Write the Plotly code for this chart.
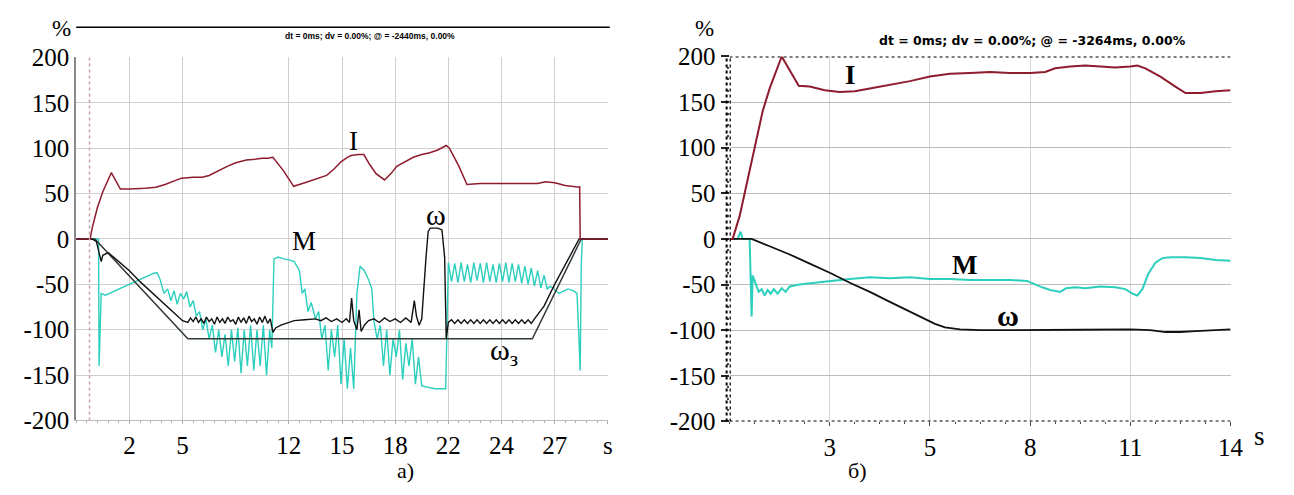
import plotly.graph_objects as go

# ---------------- Panel a) (x in grid divisions 0..10) ----------------
a_tick_pos = [1, 2, 4, 5, 6, 7, 8, 9, 10]
a_tick_text = ["2", "5", "12", "15", "18", "22", "24", "27", "s"]

a_I_x = [0, 0.26, 0.3, 0.4, 0.5, 0.66, 0.83, 1.0, 1.3, 1.5, 1.67, 1.85, 1.98, 2.2, 2.37, 2.5, 2.7,
         2.84, 3.0, 3.07, 3.2, 3.39, 3.5, 3.6, 3.7, 3.9, 4.09, 4.3, 4.5, 4.71, 4.85, 4.98, 5.1,
         5.17, 5.3, 5.41, 5.52, 5.64, 5.8, 5.92, 6.03, 6.2, 6.34, 6.5, 6.65, 6.8, 6.9, 6.96,
         7.02, 7.2, 7.35, 7.6, 8.0, 8.4, 8.68, 8.83, 9.0, 9.2, 9.46, 9.47, 9.48, 10]
a_I_y = [0, 0, 12, 35, 52, 73, 55, 55, 56, 57, 60, 64, 67, 68, 68, 70, 76,
         80, 84, 85, 87, 88, 89, 89, 90, 75, 58, 62, 66, 70, 77, 85, 90,
         92, 93, 93, 82, 72, 65, 72, 80, 86, 90, 93, 95, 98, 101, 103,
         100, 80, 60, 61, 61, 61, 61, 63, 62, 59, 57, 58, 0, 0]

a_W_x = [0, 0.3, 0.38, 0.44, 0.47, 0.5, 0.6, 0.8, 1.0, 1.2, 1.4, 1.6, 1.8, 1.95, 2.0,
         2.1, 2.15, 2.2, 2.25, 2.3, 2.35, 2.4, 2.45, 2.5, 2.55, 2.6, 2.65, 2.7, 2.75, 2.8,
         2.85, 2.9, 2.95, 3.0, 3.05, 3.1, 3.15, 3.2, 3.25, 3.3, 3.35, 3.4, 3.45, 3.5, 3.55,
         3.6, 3.65, 3.7, 3.75, 3.85, 3.95, 4.1, 4.3, 4.5, 4.6, 4.7, 4.8, 4.9, 5.0, 5.08,
         5.14, 5.18, 5.22, 5.28, 5.32, 5.36, 5.42, 5.5, 5.6, 5.7, 5.8, 5.9, 6.0, 6.1, 6.2,
         6.3, 6.36, 6.4, 6.45, 6.5, 6.58, 6.62, 6.66, 6.8, 6.88, 6.93, 6.96, 7.0,
         7.06, 7.12, 7.18, 7.24, 7.3, 7.36, 7.42, 7.48, 7.54, 7.6, 7.66, 7.72, 7.78, 7.84,
         7.9, 7.96, 8.02, 8.08, 8.14, 8.2, 8.26, 8.32, 8.38, 8.44, 8.5, 8.56, 8.62,
         8.7, 8.8, 9.0, 9.2, 9.4, 9.46, 10]
a_W_y = [0, 0, -3, -20, -25, -18, -15, -25, -35, -47, -58, -68, -80, -88, -90,
         -92, -87, -91, -86, -92, -88, -93, -86, -91, -88, -94, -86, -92, -88, -93,
         -86, -91, -89, -94, -86, -92, -87, -93, -85, -91, -88, -94, -86, -92, -85,
         -93, -88, -103, -98, -95, -93, -90, -89, -88, -90, -87, -91, -88, -92, -88,
         -92, -65, -90, -100, -78, -102, -95, -90, -88, -92, -87, -91, -88, -92, -87,
         -92, -68, -85, -95, -88, -20, 8, 12, 12, 10, -20, -110, -92,
         -89, -93, -89, -93, -89, -93, -89, -93, -89, -93, -89, -93, -89, -93,
         -89, -93, -89, -93, -89, -93, -89, -93, -89, -93, -89, -93, -88,
         -82, -74, -50, -28, -6, 0, 0]

a_Wz_x = [0, 0.35, 2.1, 8.58, 9.5, 10]
a_Wz_y = [0, 0, -110, -110, 0, 0]

a_M_x = [0, 0.42, 0.43, 0.45, 0.47, 0.55, 0.7, 0.9, 1.1, 1.3, 1.45, 1.52, 1.58, 1.65, 1.72,
         1.78, 1.84, 1.9, 1.96, 2.02, 2.08, 2.14, 2.2, 2.26, 2.32, 2.38, 2.44, 2.5, 2.56,
         2.62, 2.68, 2.74, 2.8, 2.86, 2.92, 2.98, 3.04, 3.1, 3.16, 3.22, 3.28, 3.34, 3.4,
         3.46, 3.52, 3.58, 3.64, 3.68, 3.72, 3.8, 3.9, 4.0, 4.1, 4.2, 4.25, 4.3, 4.36,
         4.42, 4.5, 4.56, 4.62, 4.68, 4.74, 4.8, 4.86, 4.92, 4.98, 5.04, 5.1, 5.16, 5.22,
         5.28, 5.34, 5.42, 5.5, 5.56, 5.6, 5.66, 5.72, 5.78, 5.84, 5.9, 5.96, 6.02, 6.08,
         6.14, 6.2, 6.26, 6.32, 6.38, 6.44, 6.5, 6.6, 6.75, 6.95,
         7.0, 7.06, 7.12, 7.18, 7.24, 7.3, 7.36, 7.42, 7.48, 7.54, 7.6, 7.66, 7.72, 7.78,
         7.84, 7.9, 7.96, 8.02, 8.08, 8.14, 8.2, 8.26, 8.32, 8.38, 8.44, 8.5, 8.56, 8.62,
         8.68, 8.74, 8.8, 8.86, 8.92, 9.0, 9.08, 9.15, 9.25, 9.35, 9.42, 9.45, 9.48, 9.5,
         9.52, 10]
a_M_y = [0, 0, -140, -85, -60, -62, -58, -53, -47, -42, -38, -37, -45, -60, -55,
         -68, -57, -72, -60, -66, -58, -75, -68, -85, -80, -100, -88, -110, -95,
         -125, -100, -130, -105, -140, -100, -135, -98, -148, -100, -140, -95, -145, -100,
         -140, -95, -150, -100, -120, -22, -20, -22, -23, -25, -35, -60, -55, -80,
         -70, -88, -80, -110, -95, -145, -100, -130, -95, -160, -110, -165, -120, -165,
         -60, -30, -35, -45, -55, -90, -110, -95, -140, -100, -150, -110, -130, -100,
         -155, -115, -140, -110, -160, -130, -162, -163, -165, -165,
         -26, -47, -27, -48, -26, -47, -28, -48, -26, -46, -27, -48, -26, -47,
         -28, -48, -27, -47, -26, -48, -27, -47, -28, -49, -30, -50, -32, -52,
         -35, -54, -40, -55, -52, -56, -60, -58, -55, -57, -60, -100, -145, -30,
         0, 0]

# ---------------- Panel б) (x in grid divisions 0..5) ----------------
b_tick_pos = [1, 2, 3, 4, 5]
b_tick_text = ["3", "5", "8", "11", "14"]

b_I_x = [0, 0.03, 0.1, 0.2, 0.3, 0.33, 0.4, 0.52, 0.6, 0.69, 0.8, 0.95, 1.1, 1.25, 1.4,
         1.6, 1.8, 2.0, 2.2, 2.4, 2.6, 2.8, 3.0, 3.15, 3.25, 3.4, 3.55, 3.7, 3.85, 4.0,
         4.07, 4.15, 4.3, 4.45, 4.55, 4.7, 4.85, 5.0]
b_I_y = [0, 0, 25, 75, 125, 140, 165, 200, 185, 168, 167, 163, 161, 162, 165,
         169, 173, 178, 181, 182, 183, 182, 182, 183, 187, 189, 190, 189, 188, 189,
         190, 187, 178, 167, 160, 160, 162, 163]

b_W_x = [0, 0.22, 0.4, 0.6, 0.8, 1.0, 1.2, 1.4, 1.6, 1.8, 1.95, 2.05, 2.15, 2.3, 2.5,
         3.0, 3.5, 4.0, 4.2, 4.35, 4.5, 4.65, 4.8, 5.0]
b_W_y = [0, 0, -8, -17, -27, -37, -48, -58, -69, -80, -88, -93, -97, -99, -100,
         -100, -99.5, -99, -100, -102, -102, -101, -100, -99]

b_M_x = [0, 0.08, 0.11, 0.13, 0.2, 0.22, 0.23, 0.26, 0.29, 0.32, 0.35, 0.38, 0.41, 0.44,
         0.48, 0.52, 0.56, 0.6, 0.7, 0.85, 1.0, 1.2, 1.4, 1.6, 1.8, 2.0, 2.2, 2.4, 2.6,
         2.8, 2.97, 3.05, 3.12, 3.2, 3.3, 3.36, 3.45, 3.55, 3.7, 3.85, 3.95, 4.02, 4.07,
         4.12, 4.18, 4.25, 4.32, 4.4, 4.55, 4.7, 4.85, 5.0]
b_M_y = [0, 0, 8, 0, 0, -85, -40, -50, -58, -55, -62, -56, -60, -55,
         -60, -54, -58, -52, -50, -48, -46, -44, -42, -43, -42, -44, -44, -45, -45,
         -45, -46, -50, -53, -56, -58, -54, -53, -54, -52, -53, -55, -60, -62,
         -55, -38, -26, -21, -20, -20, -21, -23, -24]

y_ticks = [200, 150, 100, 50, 0, -50, -100, -150, -200]
y_tick_text = ["200", "150", "100", "50", "0", "-50", "-100", "-150", "-200"]

RED = "#8e1b2e"
TEAL = "#2ccfbe"
BLACK = "#111111"
SERIF = "Liberation Serif"

fig = go.Figure()
fig.add_trace(go.Scatter(x=a_M_x, y=a_M_y, xaxis="x", yaxis="y", mode="lines",
                         line=dict(color=TEAL, width=1.4)))
fig.add_trace(go.Scatter(x=a_Wz_x, y=a_Wz_y, xaxis="x", yaxis="y", mode="lines",
                         line=dict(color="#2f3a33", width=1.5)))
fig.add_trace(go.Scatter(x=a_W_x, y=a_W_y, xaxis="x", yaxis="y", mode="lines",
                         line=dict(color=BLACK, width=1.4)))
fig.add_trace(go.Scatter(x=a_I_x, y=a_I_y, xaxis="x", yaxis="y", mode="lines",
                         line=dict(color=RED, width=1.5)))

fig.add_trace(go.Scatter(x=b_M_x, y=b_M_y, xaxis="x2", yaxis="y2", mode="lines",
                         line=dict(color=TEAL, width=2)))
fig.add_trace(go.Scatter(x=b_W_x, y=b_W_y, xaxis="x2", yaxis="y2", mode="lines",
                         line=dict(color=BLACK, width=1.8)))
fig.add_trace(go.Scatter(x=b_I_x, y=b_I_y, xaxis="x2", yaxis="y2", mode="lines",
                         line=dict(color=RED, width=2)))

axis_font = dict(family=SERIF, size=25, color="black")
W, H = 1294, 495

fig.update_layout(
    width=W, height=H, margin=dict(l=0, r=0, t=0, b=0),
    paper_bgcolor="white", plot_bgcolor="white", showlegend=False,
    xaxis=dict(domain=[77 / W, 614 / W], range=[0, 10], tickvals=a_tick_pos, ticktext=a_tick_text,
               showgrid=True, gridcolor="#cfcfcf", gridwidth=1, zeroline=False,
               showline=True, linecolor="#bdbdbd", linewidth=1,
               ticks="outside", ticklen=3, tickcolor="#aaaaaa", tickfont=axis_font,
               minor=dict(dtick=0.2, ticks="outside", ticklen=2, tickcolor="#aaaaaa", showgrid=False),
               anchor="y"),
    yaxis=dict(domain=[1 - 431 / H, 1 - 47 / H], range=[-200, 200], tickvals=y_ticks,
               ticktext=y_tick_text, showgrid=True, gridcolor="#cfcfcf", gridwidth=1,
               zeroline=False, showline=True, linecolor="#8a8a8a", linewidth=2,
               ticks="", tickfont=axis_font, anchor="x"),
    xaxis2=dict(domain=[737 / W, 1243 / W], range=[0, 5], tickvals=b_tick_pos, ticktext=b_tick_text,
                showgrid=True, gridcolor="#d6d6d6", gridwidth=1, zeroline=False,
                showline=False, ticks="outside", ticklen=4, tickcolor="#444444", tickfont=axis_font,
                minor=dict(dtick=0.25, ticks="outside", ticklen=2, tickcolor="#444444", showgrid=False),
                anchor="y2"),
    yaxis2=dict(domain=[1 - 432 / H, 1 - 46 / H], range=[-200, 200], tickvals=y_ticks,
                ticktext=y_tick_text, showgrid=True, gridcolor="#bdbdbd", gridwidth=1,
                zeroline=False, showline=False, ticks="outside", ticklen=8, tickcolor="#222222",
                tickwidth=1.5, tickfont=axis_font,
                minor=dict(dtick=12.5, ticks="outside", ticklen=2, tickcolor="#444444", showgrid=False),
                anchor="x2"),
)

shapes = [
    dict(type="line", xref="paper", yref="paper", x0=77 / W, x1=616 / W, y0=1 - 15 / H, y1=1 - 15 / H,
         line=dict(color="black", width=1.5)),
    dict(type="line", xref="x", yref="y", x0=0.25, x1=0.25, y0=-200, y1=200,
         line=dict(color="#c9a3a3", width=1.5, dash="dot")),
    dict(type="line", xref="x2", yref="y2", x0=0, x1=0, y0=-200, y1=200,
         line=dict(color="black", width=2.5, dash="dot")),
    dict(type="line", xref="paper", yref="y2", x0=734 / W, x1=734 / W, y0=-200, y1=200,
         line=dict(color="black", width=2, dash="dot")),
    dict(type="line", xref="x2", yref="y2", x0=0, x1=5, y0=200, y1=200,
         line=dict(color="black", width=2, dash="dot")),
    dict(type="line", xref="x2", yref="y2", x0=0, x1=5, y0=-200, y1=-200,
         line=dict(color="black", width=2, dash="dot")),
]
fig.update_layout(shapes=shapes)

lab = dict(family=SERIF, size=27, color="black")
labb = dict(family=SERIF, size=27, color="black", weight="bold")
pct = dict(family=SERIF, size=23, color="black")
C = dict(xanchor="center", yanchor="middle", showarrow=False)
ann = [
    dict(text="%", x=62 / W, y=1 - 16 / H, xref="paper", yref="paper", font=pct, **C),
    dict(text="%", x=712 / W, y=1 - 16 / H, xref="paper", yref="paper", font=pct, **C),
    dict(text="<b>dt = 0ms; dv = 0.00%; @ = -2440ms, 0.00%</b>", x=374 / W, y=1 - 24 / H,
         xref="paper", yref="paper",
         font=dict(family="Liberation Sans Narrow, Liberation Sans", size=8.5, color="black"), **C),
    dict(text="<b>dt = 0ms; dv = 0.00%; @ = -3264ms, 0.00%</b>", x=1043 / W, y=1 - 29 / H,
         xref="paper", yref="paper",
         font=dict(family="DejaVu Sans", size=12.5, color="black"), **C),
    dict(text="s", x=1272 / W, y=1 - 447 / H, xref="paper", yref="paper", font=lab, **C),
    dict(text="а)", x=410 / W, y=1 - 484 / H, xref="paper", yref="paper",
         font=dict(family=SERIF, size=22, color="black"), **C),
    dict(text="б)", x=866 / W, y=1 - 484 / H, xref="paper", yref="paper",
         font=dict(family=SERIF, size=22, color="black"), **C),
    # curve labels, panel a)
    dict(text="I", x=5.21, y=108, xref="x", yref="y", font=lab, **C),
    dict(text="ω", x=6.77, y=27, xref="x", yref="y", font=dict(family=SERIF, size=30, color="black"), **C),
    dict(text="M", x=4.28, y=-2, xref="x", yref="y", font=lab, **C),
    dict(text="ω<sub>з</sub>", x=8.05, y=-125, xref="x", yref="y",
         font=dict(family=SERIF, size=30, color="black"), **C),
    # curve labels, panel б)
    dict(text="I", x=1.21, y=180, xref="x2", yref="y2", font=labb, **C),
    dict(text="M", x=2.34, y=-28, xref="x2", yref="y2", font=labb, **C),
    dict(text="ω", x=2.78, y=-84, xref="x2", yref="y2",
         font=dict(family=SERIF, size=30, color="black", weight="bold"), **C),
]
fig.update_layout(annotations=ann)

fig.write_html("out.html")
